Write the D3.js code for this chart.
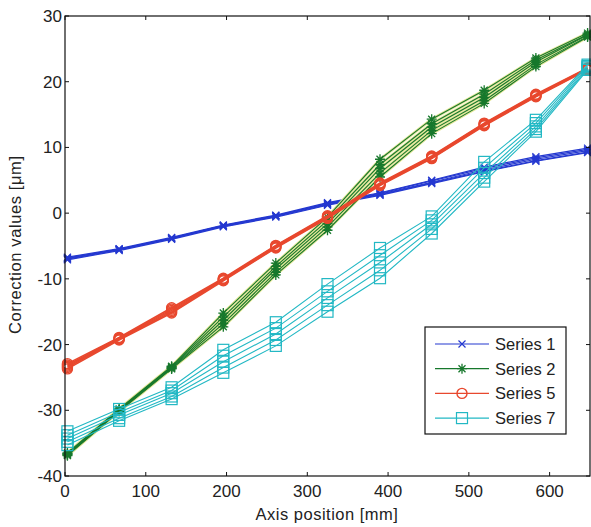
<!DOCTYPE html>
<html>
<head>
<meta charset="utf-8">
<script src="https://cdn.jsdelivr.net/npm/d3@7"></script>
<style>
  body { margin: 0; background: #fff; }
  text { font-family: "Liberation Sans", Arial, sans-serif; fill: #222; }
</style>
</head>
<body>
<div id="chart"></div>
<script>
// Messpositionen (mm)
const positions = [3, 67, 132, 196, 261, 325, 390, 454, 519, 583, 647];

// Series 1 - 5 Messläufe
const series1Runs = [
  [-6.7, -5.4, -3.7, -1.8, -0.3, 1.6, 3.1, 5.0, 7.0, 8.6, 9.9],
  [-6.8, -5.5, -3.8, -1.9, -0.4, 1.5, 3.0, 4.9, 6.8, 8.4, 9.7],
  [-6.9, -5.5, -3.8, -1.9, -0.4, 1.4, 2.9, 4.7, 6.6, 8.2, 9.5],
  [-7.0, -5.6, -3.9, -2.0, -0.5, 1.3, 2.8, 4.6, 6.4, 8.0, 9.3],
  [-7.1, -5.7, -4.0, -2.1, -0.6, 1.2, 2.7, 4.5, 6.3, 7.9, 9.2]
];
// Series 2
const series2Runs = [
  [-36.5, -29.8, -23.3, -15.2, -7.6, -0.6, 8.2, 14.3, 18.7, 23.6, 27.4],
  [-36.6, -29.9, -23.4, -15.8, -8.1, -1.1, 7.4, 13.6, 18.1, 23.3, 27.2],
  [-36.7, -30.0, -23.5, -16.3, -8.5, -1.6, 6.8, 13.1, 17.6, 23.0, 27.1],
  [-36.8, -30.1, -23.6, -16.8, -9.0, -2.1, 6.1, 12.6, 17.1, 22.6, 26.9],
  [-36.9, -30.2, -23.7, -17.3, -9.4, -2.6, 5.5, 12.1, 16.7, 22.3, 26.8]
];
// Series 5
const series5Runs = [
  [-22.9, -18.9, -14.4, -9.9, -4.9, -0.4, 4.6, 8.7, 13.7, 18.1, 22.1],
  [-23.1, -19.0, -14.6, -10.0, -5.0, -0.5, 4.5, 8.6, 13.6, 18.0, 22.0],
  [-23.3, -19.1, -14.8, -10.1, -5.1, -0.6, 4.4, 8.5, 13.5, 17.9, 21.9],
  [-23.5, -19.2, -15.0, -10.2, -5.2, -0.7, 4.3, 8.4, 13.4, 17.8, 21.9],
  [-23.7, -19.3, -15.2, -10.3, -5.3, -0.8, 4.2, 8.3, 13.3, 17.7, 21.8]
];
// Series 7
const series7Runs = [
  [-33.2, -29.8, -26.5, -20.8, -16.6, -10.8, -5.3, -0.5, 7.8, 14.2, 22.6],
  [-33.8, -30.3, -27.0, -21.7, -17.5, -11.9, -6.4, -1.1, 6.9, 13.7, 22.4],
  [-34.3, -30.7, -27.4, -22.6, -18.4, -12.9, -7.5, -1.7, 6.1, 13.2, 22.2],
  [-34.8, -31.2, -27.9, -23.5, -19.3, -14.0, -8.7, -2.4, 5.4, 12.8, 22.0],
  [-35.3, -31.6, -28.3, -24.3, -20.2, -15.0, -9.9, -3.1, 4.8, 12.4, 21.8]
];

const seriesNames = ["Series 1", "Series 2", "Series 5", "Series 7"];
const xTicks = [0, 100, 200, 300, 400, 500, 600];
const yTicks = [-40, -30, -20, -10, 0, 10, 20, 30];

// Layout
const width = 591, height = 527;
const margin = {left: 65, top: 16, right: 1, bottom: 51};

const svg = d3.select("#chart").append("svg")
  .attr("width", width)
  .attr("height", height);

const x = d3.scaleLinear().domain([0, 650]).range([margin.left, width - margin.right]);
const y = d3.scaleLinear().domain([-40, 30]).range([height - margin.bottom, margin.top]);

const styles = [
  {color: "#2438d0", marker: "x", lw: 1.2},
  {color: "#17782c", marker: "star", lw: 1.1, halo: "#e6e79a"},
  {color: "#e8482e", marker: "circle", lw: 1.6},
  {color: "#22b8c4", marker: "square", lw: 1.1}
];
const allRuns = [series1Runs, series2Runs, series5Runs, series7Runs];

// Marker zeichnen
function drawMarker(g, type, cx, cy, color) {
  if (type === "x") {
    const s = 3.5;
    g.append("path")
      .attr("d", `M${cx-s},${cy-s}L${cx+s},${cy+s}M${cx-s},${cy+s}L${cx+s},${cy-s}`)
      .attr("stroke", color).attr("stroke-width", 1.2).attr("fill", "none");
  } else if (type === "star") {
    const s = 5, d = 3.5;
    g.append("path")
      .attr("d", `M${cx-s},${cy}L${cx+s},${cy}M${cx},${cy-s}L${cx},${cy+s}M${cx-d},${cy-d}L${cx+d},${cy+d}M${cx-d},${cy+d}L${cx+d},${cy-d}`)
      .attr("stroke", color).attr("stroke-width", 1.3).attr("fill", "none");
  } else if (type === "circle") {
    g.append("circle").attr("cx", cx).attr("cy", cy).attr("r", 5)
      .attr("stroke", color).attr("stroke-width", 1.4).attr("fill", "none");
  } else if (type === "square") {
    const s = 5.5;
    g.append("rect").attr("x", cx-s).attr("y", cy-s).attr("width", 2*s).attr("height", 2*s)
      .attr("stroke", color).attr("stroke-width", 1.2).attr("fill", "none");
  }
}

const line = d3.line()
  .x(function(d, i) { return x(positions[i]); })
  .y(function(d) { return y(d); });

const plot = svg.append("g");

allRuns.forEach(function(runs, si) {
  const st = styles[si];
  const g = plot.append("g");
  if (st.halo) {
    runs.forEach(function(r) {
      g.append("path").attr("d", line(r)).attr("fill", "none")
        .attr("stroke", st.halo).attr("stroke-width", 3);
    });
  }
  runs.forEach(function(r) {
    g.append("path").attr("d", line(r)).attr("fill", "none")
      .attr("stroke", st.color).attr("stroke-width", st.lw);
    r.forEach(function(v, i) {
      drawMarker(g, st.marker, x(positions[i]), y(v), st.color);
    });
  });
});

// Box und Achsen
const x0 = x(0), x1 = x(650), y0 = y(-40), y1 = y(30);
svg.append("rect")
  .attr("x", x0).attr("y", y1).attr("width", x1 - x0).attr("height", y0 - y1)
  .attr("fill", "none").attr("stroke", "#111").attr("stroke-width", 1.2);

const tickLen = 4;
const axes = svg.append("g");
xTicks.forEach(function(t) {
  axes.append("line").attr("x1", x(t)).attr("x2", x(t)).attr("y1", y0).attr("y2", y0 - tickLen)
    .attr("stroke", "#111");
  axes.append("line").attr("x1", x(t)).attr("x2", x(t)).attr("y1", y1).attr("y2", y1 + tickLen)
    .attr("stroke", "#111");
  axes.append("text").attr("x", x(t)).attr("y", y0 + 21)
    .attr("text-anchor", "middle").attr("font-size", 17).text(t);
});
yTicks.forEach(function(t) {
  axes.append("line").attr("x1", x0).attr("x2", x0 + tickLen).attr("y1", y(t)).attr("y2", y(t))
    .attr("stroke", "#111");
  axes.append("line").attr("x1", x1).attr("x2", x1 - tickLen).attr("y1", y(t)).attr("y2", y(t))
    .attr("stroke", "#111");
  axes.append("text").attr("x", x0 - 3).attr("y", y(t) + 6)
    .attr("text-anchor", "end").attr("font-size", 17).text(t);
});

// Achsenbeschriftung
svg.append("text")
  .attr("x", 327).attr("y", 520)
  .attr("text-anchor", "middle").attr("font-size", 16.5)
  .attr("letter-spacing", 0.5)
  .text("Axis position [mm]");
svg.append("text")
  .attr("transform", "translate(21, 334) rotate(-90)")
  .attr("text-anchor", "start").attr("font-size", 16.5)
  .attr("letter-spacing", 0.6)
  .text("Correction values [μm]");

// Legende
const legend = svg.append("g");
legend.append("rect")
  .attr("x", 425).attr("y", 327).attr("width", 141).attr("height", 107)
  .attr("fill", "#fff").attr("stroke", "#111").attr("stroke-width", 1.2);
seriesNames.forEach(function(name, i) {
  const ly = 344 + i * 24.7;
  const st = styles[i];
  legend.append("line").attr("x1", 435).attr("x2", 489).attr("y1", ly).attr("y2", ly)
    .attr("stroke", st.color).attr("stroke-width", 1.2);
  drawMarker(legend, st.marker, 462, ly, st.color);
  legend.append("text").attr("x", 495).attr("y", ly + 6)
    .attr("font-size", 16.5).text(name);
});
</script>
</body>
</html>
